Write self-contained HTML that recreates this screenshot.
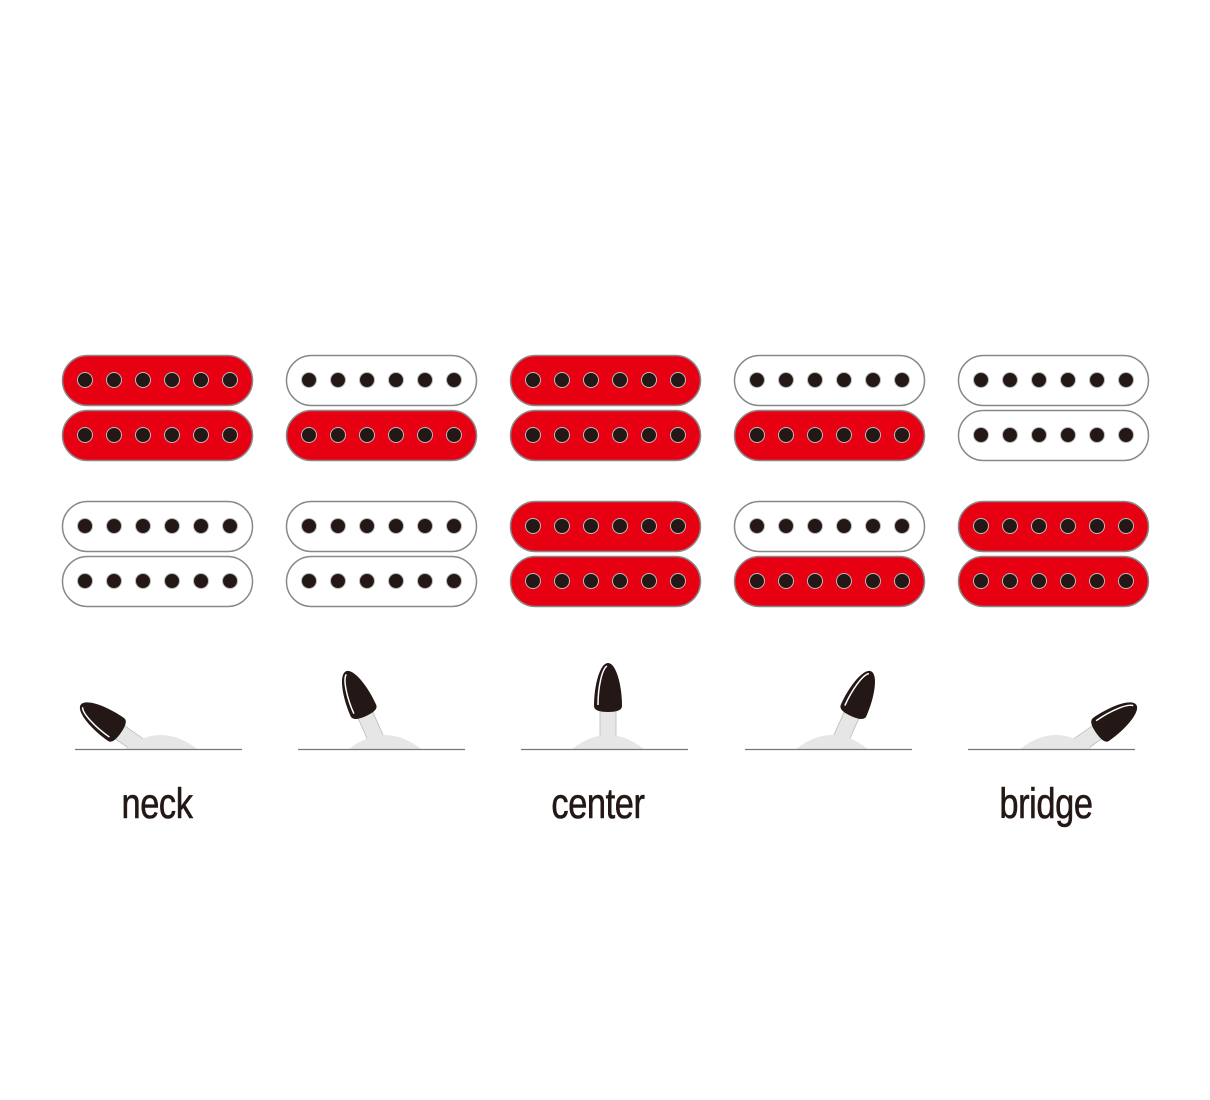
<!DOCTYPE html>
<html><head><style>
html,body{margin:0;padding:0;background:#fff;width:1210px;height:1100px;overflow:hidden}
.lbl{position:absolute;top:780px;font-family:"Liberation Sans",sans-serif;font-size:43px;color:#231815;transform:scaleX(0.8);width:200px;text-align:center;letter-spacing:-0.5px;-webkit-text-stroke:0.6px #231815}
</style></head><body>
<svg width="1210" height="1100" style="position:absolute;left:0;top:0">
<defs>
<g id="dots">
<circle cx="23" cy="25" r="7.5" fill="#231815" stroke="#bbb" stroke-width="1"/>
<circle cx="52" cy="25" r="7.5" fill="#231815" stroke="#bbb" stroke-width="1"/>
<circle cx="81" cy="25" r="7.5" fill="#231815" stroke="#bbb" stroke-width="1"/>
<circle cx="110" cy="25" r="7.5" fill="#231815" stroke="#bbb" stroke-width="1"/>
<circle cx="139" cy="25" r="7.5" fill="#231815" stroke="#bbb" stroke-width="1"/>
<circle cx="168" cy="25" r="7.5" fill="#231815" stroke="#bbb" stroke-width="1"/>
</g>
<g id="R"><rect x="0.5" y="0.5" width="190" height="50" rx="25" fill="#e60012" stroke="#888" stroke-width="1.5"/><use href="#dots"/></g>
<g id="W"><rect x="0.5" y="0.5" width="190" height="50" rx="25" fill="#fff" stroke="#888" stroke-width="1.5"/><use href="#dots"/></g>
<g id="lever">
<rect x="-8" y="-40" width="16" height="40" fill="#e6e6e6" stroke="#bbb" stroke-width="0.8"/>
<path d="M-14,-43 C-14,-64 -8,-86 0,-86 C8,-86 14,-64 14,-43 Q14,-37 0,-37 Q-14,-37 -14,-43Z" fill="#231815"/>
<path d="M-10,-44 C-10,-62 -6,-80 -1,-83" fill="none" stroke="#fff" stroke-width="1.5"/>
</g>
<g id="base">
<path d="M-36,0 Q0,-28 36,0Z" fill="#e6e6e6"/>
</g>
</defs>
<g transform="translate(62,355)"><use href="#R"/></g>
<g transform="translate(286,355)"><use href="#W"/></g>
<g transform="translate(510,355)"><use href="#R"/></g>
<g transform="translate(734,355)"><use href="#W"/></g>
<g transform="translate(958,355)"><use href="#W"/></g>
<g transform="translate(62,410)"><use href="#R"/></g>
<g transform="translate(286,410)"><use href="#R"/></g>
<g transform="translate(510,410)"><use href="#R"/></g>
<g transform="translate(734,410)"><use href="#R"/></g>
<g transform="translate(958,410)"><use href="#W"/></g>
<g transform="translate(62,501)"><use href="#W"/></g>
<g transform="translate(286,501)"><use href="#W"/></g>
<g transform="translate(510,501)"><use href="#R"/></g>
<g transform="translate(734,501)"><use href="#W"/></g>
<g transform="translate(958,501)"><use href="#R"/></g>
<g transform="translate(62,556)"><use href="#W"/></g>
<g transform="translate(286,556)"><use href="#W"/></g>
<g transform="translate(510,556)"><use href="#R"/></g>
<g transform="translate(734,556)"><use href="#R"/></g>
<g transform="translate(958,556)"><use href="#R"/></g>
<g transform="translate(161,749)"><g transform="translate(0,12) rotate(-55) translate(0,-12)"><use href="#lever"/></g><use href="#base"/></g>
<g transform="translate(385,749)"><g transform="translate(0,10) rotate(-24) translate(0,-10)"><use href="#lever"/></g><use href="#base"/></g>
<g transform="translate(608,749)"><use href="#lever"/><use href="#base"/></g>
<g transform="translate(832,749)"><g transform="translate(0,10) rotate(24) translate(0,-10)"><use href="#lever"/></g><use href="#base"/></g>
<g transform="translate(1056,749)"><g transform="translate(0,12) rotate(55) translate(0,-12)"><use href="#lever"/></g><use href="#base"/></g>
<rect x="0" y="749.5" width="1210" height="200" fill="#fff"/>
<g stroke="#777" stroke-width="1.3">
<line x1="75" y1="749.5" x2="242" y2="749.5"/>
<line x1="298" y1="749.5" x2="465" y2="749.5"/>
<line x1="521" y1="749.5" x2="688" y2="749.5"/>
<line x1="745" y1="749.5" x2="912" y2="749.5"/>
<line x1="968" y1="749.5" x2="1135" y2="749.5"/>
</g>
</svg>
<div class="lbl" style="left:57px">neck</div>
<div class="lbl" style="left:498px">center</div>
<div class="lbl" style="left:946px">bridge</div>
</body></html>
